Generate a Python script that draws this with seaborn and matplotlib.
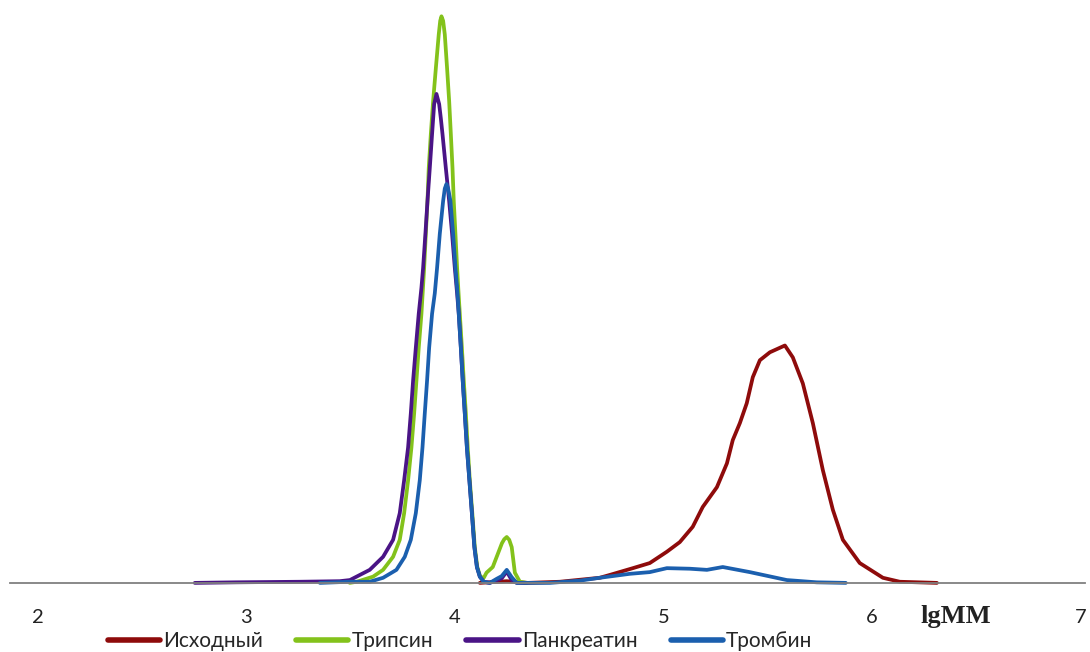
import seaborn as sns
import matplotlib
matplotlib.use('Agg')
import matplotlib.pyplot as plt
import pandas as pd

# Data (x = lgMM, y = relative intensity, %)
samples = ['Исходный', 'Трипсин', 'Панкреатин', 'Тромбин']
colors = ['#8E0B0B', '#83C21B', '#4A1486', '#1B5FAE']

ishodny_x = [4.12, 4.249, 4.35, 4.504, 4.695, 4.743, 4.854, 4.935, 5.017, 5.079, 5.141, 5.189,
             5.257, 5.305, 5.333, 5.367, 5.400, 5.429, 5.463, 5.511, 5.559, 5.583, 5.621, 5.669,
             5.717, 5.765, 5.813, 5.861, 5.942, 6.053, 6.134, 6.312]
ishodny_y = [0, 0.3, 0, 0.2, 0.9, 1.4, 2.6, 3.5, 5.5, 7.2, 9.9, 13.4,
             16.9, 21.1, 25.2, 28.2, 31.7, 36.3, 39.3, 40.7, 41.5, 41.9, 39.8, 35.2,
             28.2, 19.9, 12.9, 7.6, 3.5, 0.9, 0.2, 0]

tripsin_x = [3.496, 3.530, 3.608, 3.656, 3.704, 3.736, 3.757, 3.776, 3.792, 3.805, 3.816, 3.827,
             3.840, 3.853, 3.861, 3.869, 3.875, 3.885, 3.896, 3.909, 3.923, 3.930, 3.936, 3.944,
             3.952, 3.963, 3.973, 3.981, 3.989, 3.995, 4.003, 4.011, 4.018, 4.024, 4.034, 4.043,
             4.053, 4.062, 4.072, 4.084, 4.096, 4.108, 4.122, 4.139, 4.152, 4.182, 4.226, 4.237,
             4.249, 4.261, 4.273, 4.288, 4.312, 4.345]
tripsin_y = [0, 0.2, 1.1, 2.3, 4.6, 7.6, 12.3, 18.1, 23.9, 29.9, 35.7, 41.5,
             47.5, 55.6, 61.6, 67.4, 73.2, 79.2, 85.0, 90.8, 96.8, 99.2, 100, 99.2,
             96.8, 90.8, 85.0, 79.2, 73.2, 67.4, 61.6, 55.6, 51.1, 47.5, 41.5, 35.7,
             29.9, 23.9, 18.1, 12.3, 6.3, 2.8, 1.1, 0.9, 1.8, 2.8, 7.0, 7.7,
             8.1, 7.6, 6.3, 1.8, 0.2, 0]

pankreatin_x = [2.753, 2.95, 3.257, 3.448, 3.497, 3.592, 3.656, 3.704, 3.736, 3.757, 3.776, 3.789,
                3.800, 3.813, 3.827, 3.840, 3.848, 3.859, 3.869, 3.880, 3.891, 3.901, 3.912,
                3.925, 3.933, 3.941, 3.957, 3.973, 3.987, 4.000, 4.011, 4.019, 4.029, 4.038,
                4.048, 4.058, 4.070, 4.082, 4.094, 4.106, 4.120, 4.139, 4.168, 4.225, 4.249,
                4.273, 4.297, 4.345]
pankreatin_y = [0, 0.1, 0.2, 0.3, 0.5, 2.3, 4.6, 7.6, 12.3, 18.1, 23.9, 29.9,
                35.7, 41.5, 47.5, 52.1, 55.6, 61.6, 67.4, 73.2, 79.2, 84.5, 86.3,
                84.5, 82.0, 79.2, 73.2, 67.4, 61.6, 55.6, 51.1, 47.5, 41.5, 35.7,
                29.9, 23.9, 18.1, 12.3, 6.3, 2.8, 1.1, 0.2, 0, 0.8, 2.0,
                0.5, 0, 0]

trombin_x = [3.353, 3.496, 3.592, 3.656, 3.720, 3.760, 3.789, 3.813, 3.832, 3.845, 3.856, 3.867,
             3.877, 3.891, 3.904, 3.915, 3.928, 3.944, 3.952, 3.960, 3.968, 3.979, 3.992, 4.003,
             4.013, 4.019, 4.029, 4.038, 4.048, 4.058, 4.070, 4.082, 4.094, 4.106, 4.120, 4.139,
             4.168, 4.200, 4.225, 4.249, 4.273, 4.297, 4.456, 4.600, 4.695, 4.839, 4.935, 5.017,
             5.127, 5.209, 5.285, 5.415, 5.592, 5.736, 5.875]
trombin_y = [0, 0.2, 0.2, 0.9, 2.3, 4.6, 7.6, 12.3, 18.1, 23.9, 29.9, 35.7,
             41.5, 47.5, 51.1, 55.6, 61.6, 67.4, 69.6, 70.4, 69.6, 67.4, 61.6, 55.6,
             51.1, 47.5, 41.5, 35.7, 29.9, 23.9, 18.1, 12.3, 6.3, 2.8, 1.1, 0.2,
             0, 0.7, 1.2, 2.3, 1.0, 0, 0, 0.4, 0.9, 1.6, 1.9, 2.6,
             2.5, 2.3, 2.8, 1.9, 0.5, 0.1, 0]

tick_vals = [2, 3, 4, 5, 6, 7]

frames = []
for name, xs, ys in zip(samples,
                        [ishodny_x, tripsin_x, pankreatin_x, trombin_x],
                        [ishodny_y, tripsin_y, pankreatin_y, trombin_y]):
    frames.append(pd.DataFrame({'lgMM': xs, 'I': ys, 'sample': name}))
df = pd.concat(frames, ignore_index=True)

sns.set_style('white')
plt.rcParams['font.family'] = ['Lato', 'DejaVu Sans']

fig = plt.figure(figsize=(10.9, 6.52), dpi=100)
ax = fig.add_axes([0.009, 0.106, 0.986, 0.869])

sns.lineplot(data=df, x='lgMM', y='I', hue='sample', hue_order=samples,
             palette=colors, estimator=None, sort=False, lw=2.7, ax=ax,
             legend=False, solid_capstyle='round', solid_joinstyle='round')
for ln in ax.lines:
    ln.set_clip_on(False)

ax.set_xlim(1.866, 7.02)
ax.set_ylim(0, 100)
ax.set_yticks([])
ax.set_xticks(tick_vals)
ax.set_xticklabels([str(t) for t in tick_vals], fontsize=14.5, color='#222222')
ax.tick_params(axis='x', length=0, pad=19)
ax.set_xlabel('')
ax.set_ylabel('')
for s in ['top', 'left', 'right']:
    ax.spines[s].set_visible(False)
ax.spines['bottom'].set_color('#808080')
ax.spines['bottom'].set_linewidth(1.3)

fig.text(956 / 1090, 1 - 616 / 652, 'lgMM', family='Liberation Serif',
         fontweight='bold', fontsize=19, ha='center', va='center', color='#222222')

handles = [plt.Line2D([], [], color=c, lw=4, solid_capstyle='round') for c in colors]
fig.legend(handles, samples, loc='center', bbox_to_anchor=(460 / 1090, 1 - 641 / 652),
           ncol=4, frameon=False, fontsize=15, handlelength=2.5, handletextpad=0.15,
           columnspacing=1.6, borderaxespad=0, borderpad=0)

plt.savefig('out.png', dpi=100)
